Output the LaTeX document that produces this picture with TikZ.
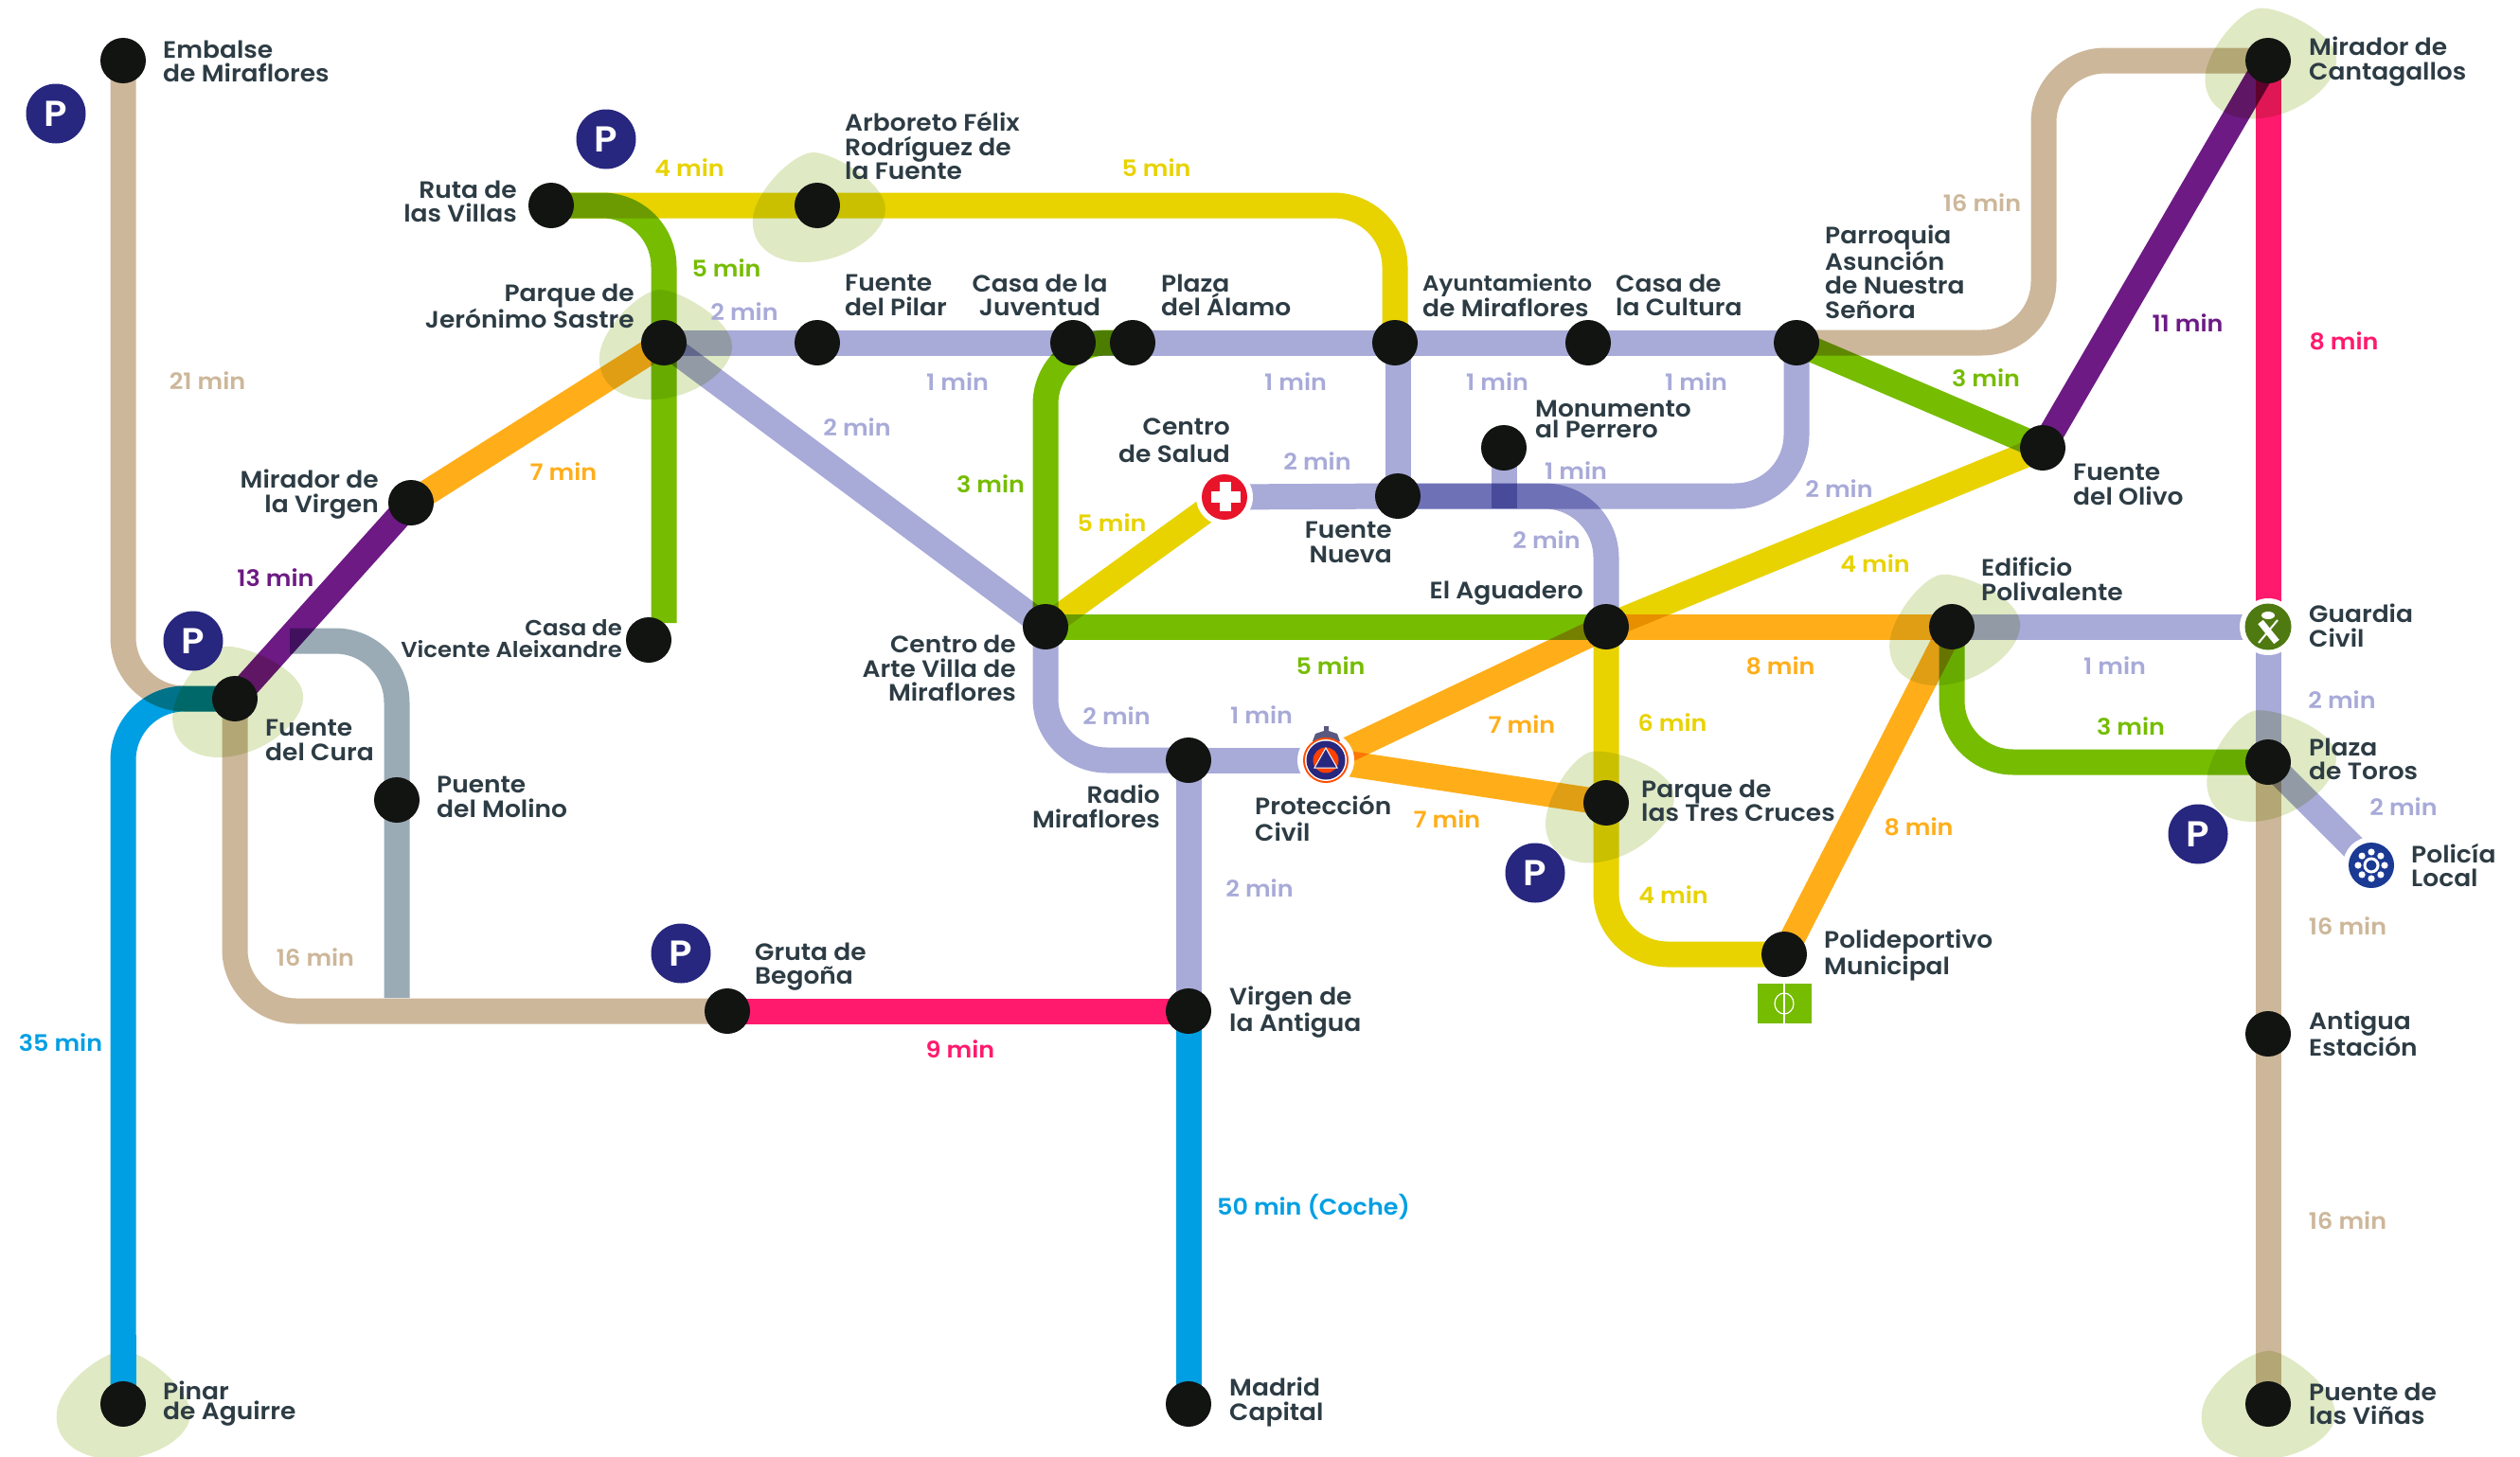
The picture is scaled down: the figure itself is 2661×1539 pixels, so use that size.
\documentclass[tikz,border=0pt]{standalone}
\usepackage{fontspec}
\setmainfont{Poppins SemiBold}[FakeStretch=1.06]
\pgfdeclarelayer{blobs}\pgfdeclarelayer{lines}\pgfdeclarelayer{top}
\pgfsetlayers{blobs,lines,main,top}
\definecolor{cblue}{HTML}{009FE3}\definecolor{cyel}{HTML}{E8D300}\definecolor{cgrn}{HTML}{76BC00}
\definecolor{clav}{HTML}{A8AAD8}\definecolor{ctan}{HTML}{CDB79A}\definecolor{corg}{HTML}{FFAE1A}
\definecolor{cpur}{HTML}{6D1A85}\definecolor{cpnk}{HTML}{FF1A6E}\definecolor{cgry}{HTML}{9AABB5}
\definecolor{cblob}{HTML}{DFE9C3}\definecolor{ctxt}{HTML}{2D3C44}\definecolor{cnavy}{HTML}{27277F}
\definecolor{cdot}{HTML}{121412}\definecolor{cred}{HTML}{E8142A}\definecolor{cguard}{HTML}{4F7A12}
\definecolor{cpol}{HTML}{1A3A94}
\tikzset{
 stop/.style={circle,fill=cdot,minimum size=48pt,inner sep=0},
 halo/.style={circle,fill=white,minimum size=60pt,inner sep=0},
 ln/.style={line width=27pt,blend mode=multiply,rounded corners=#1},
 ln/.default=65pt,
 lab/.style={font=\fontsize{25}{25.5}\selectfont,text=ctxt,inner sep=0,anchor=west,align=left},
 labr/.style={font=\fontsize{25}{25.5}\selectfont,text=ctxt,inner sep=0,anchor=east,align=right},
 labc/.style={font=\fontsize{25}{25.5}\selectfont,text=ctxt,inner sep=0,align=center},
 tm/.style={font=\fontsize{24}{25}\selectfont,text=#1,inner sep=0},
 pk/.style={circle,fill=cnavy,minimum size=63pt,inner sep=0,text=white,font=\fontsize{38}{38}\selectfont},
}
\newcommand{\blob}[2]{\begin{scope}[shift={(#1.center)},rotate=#2]
\fill[cblob] (-4,-56) .. controls (15,-56) and (72,-25) .. (72,4) .. controls (72,30) and (30,60) .. (-14,60) .. controls (-50,60) and (-70,40) .. (-68,14) .. controls (-66,-15) and (-25,-56) .. (-4,-56) -- cycle;
\end{scope}}
\begin{document}
\begin{tikzpicture}[x=1pt,y=-1pt]
\begin{pgfonlayer}{blobs}
\fill[white] (0,0) rectangle (2661,1539);
\end{pgfonlayer}
\useasboundingbox (0,0) rectangle (2661,1539);
% stations
\node[stop] (embalse) at (130,64) {};
\node[stop] (ruta) at (582,217) {};
\node[stop] (arboreto) at (863,217) {};
\node[stop] (jeronimo) at (701,362) {};
\node[stop] (pilar) at (863,362) {};
\node[stop] (juventud) at (1133,362) {};
\node[stop] (alamo) at (1196,362) {};
\node[stop] (ayto) at (1473,362) {};
\node[stop] (cultura) at (1677,362) {};
\node[stop] (parroquia) at (1897,362) {};
\node[stop] (cantagallos) at (2395,64) {};
\node[stop] (virgen) at (434,531) {};
\node[stop] (vicente) at (685,676) {};
\node[stop] (arte) at (1104,662) {};
\node[stop] (cura) at (248,738) {};
\node[stop] (olivo) at (2157,473) {};
\node[stop] (perrero) at (1588,473) {};
\node[stop] (nueva) at (1476,524) {};
\node[stop] (aguadero) at (1696,662) {};
\node[stop] (edificio) at (2061,662) {};
\node[stop] (molino) at (419,845) {};
\node[stop] (radio) at (1255,803) {};
\node[stop] (gruta) at (768,1068) {};
\node[stop] (antigua) at (1255,1068) {};
\node[stop] (pinar) at (130,1483) {};
\node[stop] (madrid) at (1255,1483) {};
\node[stop] (cruces) at (1696,848) {};
\node[stop] (polid) at (1884,1008) {};
\node[stop] (toros) at (2395,805) {};
\node[stop] (estacion) at (2395,1092) {};
\node[stop] (vinas) at (2395,1483) {};
% icon stations
\node[halo] (salud) at (1293,525) {};
\fill[cred] (salud.center) circle (24);
\fill[white] (1288,509) rectangle (1300,540);
\fill[white] (1278.5,519) rectangle (1309.5,531);
\node[halo] (proteccion) at (1400,803) {};
\fill[black!50!blue!30!gray] (1386,783) -- (1389,775) -- (1398,772) -- (1398,767) -- (1403,767) -- (1403,772) -- (1412,775) -- (1415,783) -- cycle;
\fill[orange!60!red] (proteccion.center) circle (24);
\fill[white] (proteccion.center) circle (22);
\fill[cnavy] (proteccion.center) circle (20.5);
\fill[orange!50!red] (proteccion.center) circle (13.5);
\fill[cnavy,draw=white,line width=1pt] (1400,790) -- (1412,811) -- (1388,811) -- cycle;
\node[halo] (guardia) at (2395,662) {};
\fill[cguard] (guardia.center) circle (24.5);
\draw[white,line width=7pt] (2387,657) -- (2404,678);
\draw[white,line width=2pt] (2405,655) -- (2385,679);
\fill[white] (2395,650) ellipse (7 and 4);
\node[halo] (policia) at (2504,914) {};
\fill[cpol] (policia.center) circle (24);
\draw[white,line width=3pt] (policia.center) circle (7);
\foreach \a in {0,45,...,315} \fill[white] (policia.center) ++(\a:14) circle (3.6);
% lines and blobs
\begin{pgfonlayer}{blobs}
\blob{arboreto}{0}
\blob{jeronimo}{0}
\blob{cura}{7}
\blob{cantagallos}{5}
\blob{edificio}{7}
\blob{cruces}{12}
\blob{toros}{10}
\blob{pinar}{-8}
\blob{vinas}{-8}
\end{pgfonlayer}
\begin{pgfonlayer}{lines}
\coordinate (gryA) at (306,677);
\coordinate (gryB) at (419,1054);
\coordinate (grnEnd) at (701,658);
\coordinate (tanRight) at (2158,200);
\coordinate (monBot) at (1588,537);
\coordinate (lavTop) at (nueva.center |- ayto.center);
\coordinate (pinarBlob) at (130,1410);
\draw[ln,ctan] (embalse.center) |- (cura.center);
\draw[ln,cblue] (pinar.center) |- (cura.center);
\draw[line width=27pt,cblue] (pinar.center) -- (pinarBlob);
\draw[ln,ctan] (cura.center) |- (gruta.center);
\draw[ln,cgry] (gryA) -| (gryB);
\draw[ln,cpur] (cura.center) -- (virgen.center);
\draw[ln,corg] (virgen.center) -- (jeronimo.center);
\draw[ln,cgrn] (ruta.center) -| (grnEnd);
\draw[ln,cyel] (ruta.center) -| (ayto.center);
\draw[ln,clav] (jeronimo.center) -- (parroquia.center);
\draw[ln,clav] (jeronimo.center) -- (arte.center);
\draw[ln,cgrn] (arte.center) |- (alamo.center);
\draw[ln,cyel] (arte.center) -- (salud.center);
\draw[ln,cgrn] (arte.center) -- (aguadero.center);
\draw[ln,corg] (aguadero.center) -- (edificio.center);
\draw[ln,clav] (edificio.center) -- (guardia.center);
\draw[ln,cyel] (olivo.center) -- (aguadero.center);
\draw[ln,cgrn] (parroquia.center) -- (olivo.center);
\draw[ln,cpur] (olivo.center) -- (cantagallos.center);
\draw[ln,cpnk] (cantagallos.center) -- (guardia.center);
\draw[ln,ctan] (parroquia.center) -| (tanRight) |- (cantagallos.center);
\draw[ln,clav] (guardia.center) -- (toros.center);
\draw[ln,cgrn] (edificio.center) |- (toros.center);
\draw[ln,ctan] (toros.center) -- (vinas.center);
\draw[ln,clav] (toros.center) -- (policia.center);
\draw[ln,cyel] (aguadero.center) |- (polid.center);
\draw[ln,corg] (polid.center) -- (edificio.center);
\draw[ln,corg] (aguadero.center) -- (proteccion.center);
\draw[ln,corg] (proteccion.center) -- (cruces.center);
\draw[ln,clav] (arte.center) |- (radio.center);
\draw[ln,clav] (radio.center) -- (proteccion.center);
\draw[ln,clav] (radio.center) -- (antigua.center);
\draw[ln,cpnk] (gruta.center) -- (antigua.center);
\draw[ln,cblue] (antigua.center) -- (madrid.center);
\draw[ln,clav] (lavTop) -- (nueva.center);
\draw[ln,clav] (salud.center) -- (nueva.center);
\draw[ln,clav] (nueva.center) -| (parroquia.center);
\draw[ln,clav] (nueva.center) -| (aguadero.center);
\draw[ln,clav] (perrero.center) -- (monBot);
\end{pgfonlayer}
% P signs
\node[pk] (p1) at (59,120) {P};
\node[pk] (p2) at (640,147) {P};
\node[pk] (p3) at (204,677) {P};
\node[pk] (p4) at (719,1007) {P};
\node[pk] (p5) at (1621,922) {P};
\node[pk] (p6) at (2321,881) {P};
% football pitch
\node[fill=cgrn,minimum width=57pt,minimum height=42pt,inner sep=0] (campo) at (1884,1060) {};
\draw[white,line width=1.2pt] (campo.north) -- (campo.south);
\draw[white,line width=1.2pt] (campo.center) ellipse (10 and 11);
% labels
\node[lab] (lEmbalse) at (172,65) {Embalse\\de Miraflores};
\node[lab] (lArboreto) at (892,154) {Arboreto Félix\\Rodríguez de\\la Fuente};
\node[labr] (lRuta) at (546,213) {Ruta de\\las Villas};
\node[labr] (lJeronimo) at (670,323) {Parque de\\Jerónimo Sastre};
\node[lab] (lPilar) at (892,312) {Fuente\\del Pilar};
\node[labc] (lJuventud) at (1098,312) {Casa de la\\Juventud};
\node[lab] (lAlamo) at (1226,312) {Plaza\\del Álamo};
\node[labr] (lVirgen) at (400,522) {Mirador de\\la Virgen};
\node[labr,font=\fontsize{23}{23}\selectfont] (lVicente) at (657,675) {Casa de\\Vicente Aleixandre};
\node[labr] (lArte) at (1073,706) {Centro de\\Arte Villa de\\Miraflores};
\node[labr,font=\fontsize{25}{29}\selectfont] (lSalud) at (1299,465) {Centro\\de Salud};
\node[lab] (lAyto) at (1502,312) {\fontsize{23}{25.5}\selectfont Ayuntamiento\\de Miraflores};
\node[lab] (lCultura) at (1706,312) {Casa de\\la Cultura};
\node[lab] (lParroquia) at (1927,287) {Parroquia\\Asunción\\de Nuestra\\Señora};
\node[lab] (lCantagallos) at (2438,65) {Mirador de\\Cantagallos};
\node[lab,font=\fontsize{25}{22}\selectfont] (lPerrero) at (1621,443) {Monumento\\al Perrero};
\node[lab] (lOlivo) at (2189,512) {Fuente\\del Olivo};
\node[labr] (lNueva) at (1470,573) {Fuente\\Nueva};
\node[labr] (lAguadero) at (1672,627) {El Aguadero};
\node[lab] (lEdificio) at (2092,612) {Edificio\\Polivalente};
\node[lab] (lGuardia) at (2438,661) {Guardia\\Civil};
\node[lab] (lToros) at (2438,802) {Plaza\\de Toros};
\node[lab] (lPolicia) at (2546,914) {Policía\\Local};
\node[lab] (lEstacion) at (2438,1092) {Antigua\\Estación};
\node[lab] (lVinas) at (2438,1483) {Puente de\\las Viñas};
\node[lab] (lCruces) at (1733,846) {Parque de\\las Tres Cruces};
\node[lab] (lPolid) at (1926,1009) {Polideportivo\\Municipal};
\node[lab] (lAntigua) at (1298,1069) {Virgen de\\la Antigua};
\node[lab] (lMadrid) at (1298,1481) {Madrid\\Capital};
\node[lab,font=\fontsize{25}{28}\selectfont] (lProt) at (1325,864) {Protección\\Civil};
\node[labr] (lRadio) at (1225,852) {Radio\\Miraflores};
\node[lab] (lGruta) at (797,1021) {Gruta de\\Begoña};
\node[lab] (lMolino) at (461,842) {Puente\\del Molino};
\node[lab,font=\fontsize{25}{21}\selectfont] (lPinar) at (172,1483) {Pinar\\de Aguirre};
\node[lab] (lCura) at (280,782) {Fuente\\del Cura};
% times
\node[tm=ctan] (t1) at (219,402) {21 min};
\node[tm=cyel] (t2) at (728,177) {4 min};
\node[tm=cyel] (t3) at (1221,177) {5 min};
\node[tm=cgrn] (t4) at (767,283) {5 min};
\node[tm=clav] (t5) at (786,329) {2 min};
\node[tm=clav] (t6) at (1011,403) {1 min};
\node[tm=clav] (t7) at (905,451) {2 min};
\node[tm=corg] (t8) at (595,498) {7 min};
\node[tm=cpur] (t9) at (291,610) {13 min};
\node[tm=cgrn] (t10) at (1046,511) {3 min};
\node[tm=cyel] (t11) at (1174,552) {5 min};
\node[tm=clav] (t12) at (1368,403) {1 min};
\node[tm=clav] (t13) at (1581,403) {1 min};
\node[tm=clav] (t14) at (1791,403) {1 min};
\node[tm=ctan] (t15) at (2093,214) {16 min};
\node[tm=cgrn] (t16) at (2097,399) {3 min};
\node[tm=cpur] (t17) at (2310,341) {11 min};
\node[tm=cpnk] (t18) at (2475,360) {8 min};
\node[tm=clav] (t19) at (1391,487) {2 min};
\node[tm=clav] (t20) at (1664,497) {1 min};
\node[tm=clav] (t21) at (1942,516) {2 min};
\node[tm=clav] (t22) at (1633,570) {2 min};
\node[tm=cyel] (t23) at (1980,595) {4 min};
\node[tm=corg] (t24) at (1880,703) {8 min};
\node[tm=clav] (t25) at (2233,703) {1 min};
\node[tm=cgrn] (t26) at (1405,703) {5 min};
\node[tm=clav] (t27) at (2473,739) {2 min};
\node[tm=cgrn] (t28) at (2250,767) {3 min};
\node[tm=cyel] (t29) at (1766,763) {6 min};
\node[tm=corg] (t30) at (1607,765) {7 min};
\node[tm=corg] (t31) at (1528,865) {7 min};
\node[tm=corg] (t32) at (2026,873) {8 min};
\node[tm=cyel] (t33) at (1767,945) {4 min};
\node[tm=clav] (t34) at (2538,852) {2 min};
\node[tm=ctan] (t35) at (2479,978) {16 min};
\node[tm=ctan] (t36) at (2479,1289) {16 min};
\node[tm=cblue] (t37) at (1387,1275) {50 min (Coche)};
\node[tm=clav] (t38) at (1179,756) {2 min};
\node[tm=clav] (t39) at (1332,755) {1 min};
\node[tm=clav] (t40) at (1330,938) {2 min};
\node[tm=ctan] (t41) at (333,1011) {16 min};
\node[tm=cpnk] (t42) at (1014,1108) {9 min};
\node[tm=cblue] (t43) at (64,1101) {35 min};
\end{tikzpicture}
\end{document}
